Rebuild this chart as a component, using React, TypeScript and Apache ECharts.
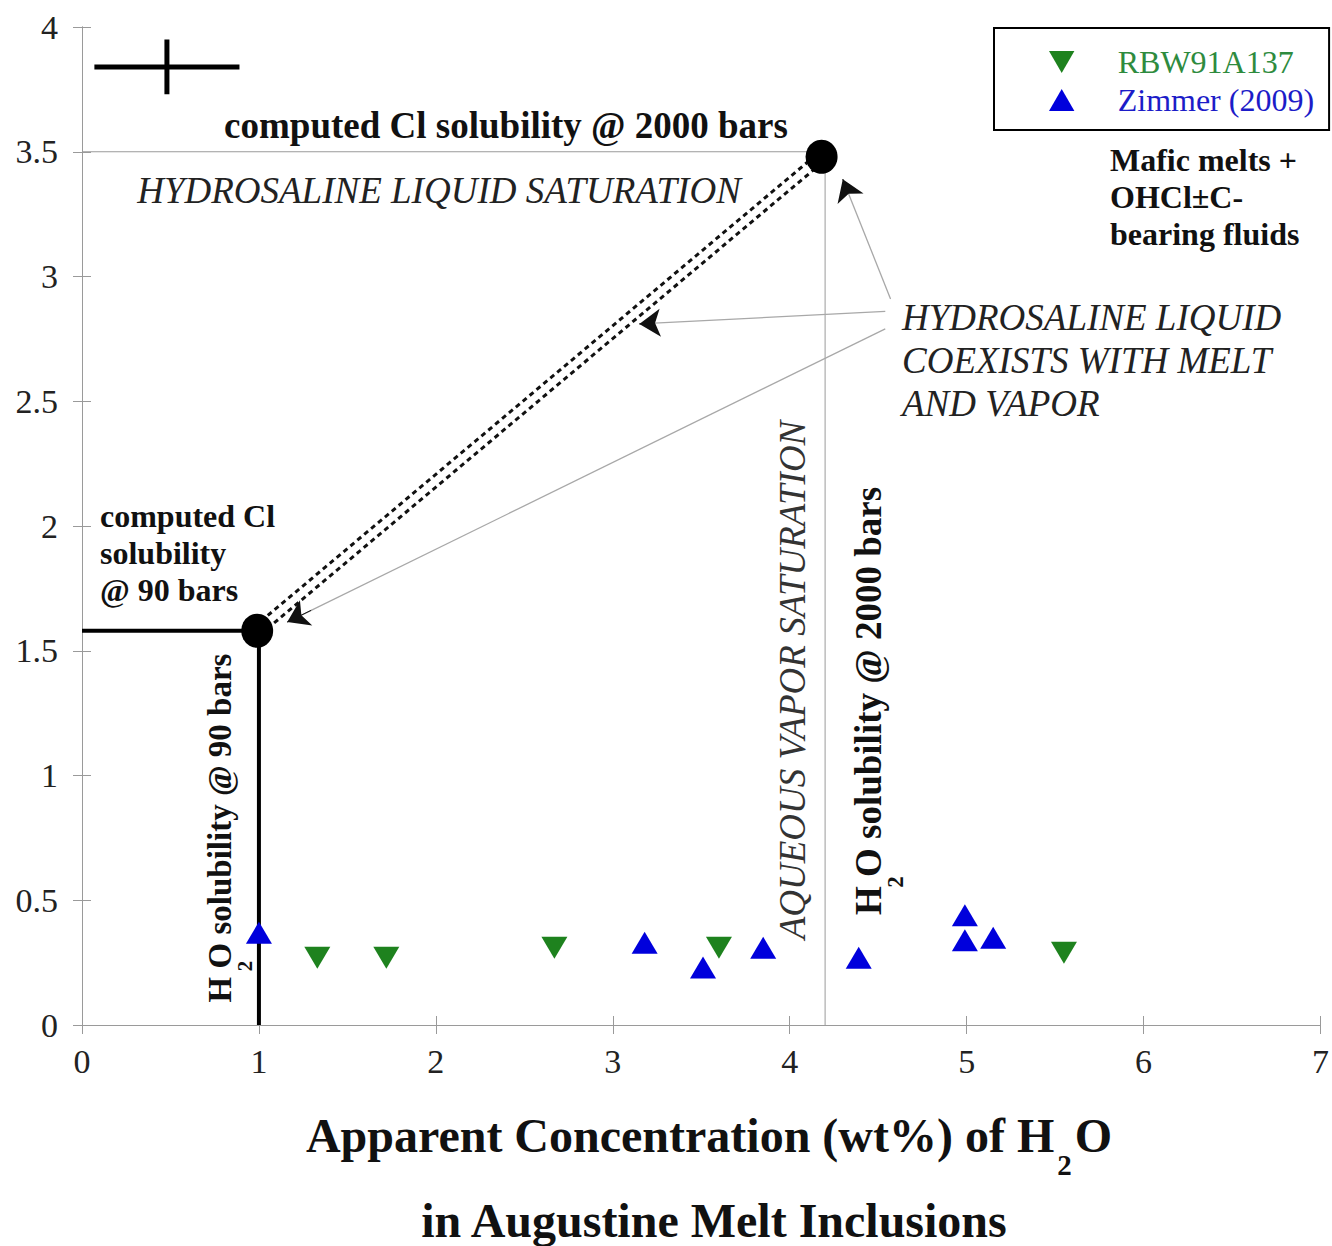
import React, { useEffect, useRef } from "react";
import * as echarts from "echarts";

const SERIF = '"Liberation Serif", "Times New Roman", serif';

const yTickLabels = ["0", "0.5", "1", "1.5", "2", "2.5", "3", "3.5", "4"];

// RBW91A137 (green, down triangles)
const rbwX = [1.33, 1.72, 2.67, 3.6, 5.55];
const rbwY = [0.27, 0.27, 0.31, 0.31, 0.29];

// Zimmer (2009) (blue, up triangles)
const zimX = [1.0, 3.18, 3.51, 3.85, 4.39, 4.99, 4.99, 5.15];
const zimY = [0.37, 0.33, 0.23, 0.31, 0.27, 0.44, 0.34, 0.35];

// computed solubility points
const cl90Point = [0.99, 1.58];
const cl2000Point = [4.18, 3.48];
const h2o90 = 1.0;
const cl90Level = 1.58;
const h2o2000 = 4.2;
const cl2000Level = 3.5;

// error bar (uncertainty cross)
const errCenter = [0.48, 3.84];
const errHalfX = 0.41;
const errHalfY = 0.11;

// arrows: from -> to
const arrowFrom = [
  [4.54, 2.86],
  [4.54, 2.79],
  [4.57, 2.91],
];
const arrowTo = [
  [3.15, 2.81],
  [1.16, 1.615],
  [4.3, 3.39],
];

function seg(a: number[], b: number[]) {
  return [a, b];
}

export default function App() {
  const ref = useRef<HTMLDivElement>(null);
  useEffect(() => {
    document.body.style.margin = "0";
    const chart = echarts.init(ref.current!, undefined, { renderer: "svg" });

    const lineSeries = (name: string, data: number[][], color: string, width: number, type: any = "solid", z = 2) => ({
      name,
      type: "line",
      data,
      symbol: "none",
      silent: true,
      z,
      lineStyle: { color, width, type },
    });

    const off = [0.018, -0.015];
    const dblA = [
      [cl90Point[0] + off[0], cl90Point[1] + off[1]],
      [cl2000Point[0] + off[0], cl2000Point[1] + off[1]],
    ];
    const dblB = [
      [cl90Point[0] - off[0], cl90Point[1] - off[1]],
      [cl2000Point[0] - off[0], cl2000Point[1] - off[1]],
    ];

    const arrowLines = arrowFrom.map((f, i) => ({ coords: [f, arrowTo[i]] }));
    const arrowHeads = arrowFrom.map((f, i) => {
      const t = arrowTo[i];
      const k = 0.04;
      return { coords: [[t[0] + (f[0] - t[0]) * k, t[1] + (f[1] - t[1]) * k], t] };
    });

    const axisCommon = {
      axisLine: { show: true, lineStyle: { color: "#9a9a9a", width: 1 } },
      axisTick: { show: true, inside: true, length: 9, lineStyle: { color: "#9a9a9a" } },
      splitLine: { show: false },
    };

    const txt = (extra: any) => ({
      fill: "#111",
      fontFamily: SERIF,
      textAlign: "center",
      align: "center",
      textVerticalAlign: "middle",
      verticalAlign: "middle",
      ...extra,
    });
    const txtTop = (extra: any) => ({
      fill: "#111",
      fontFamily: SERIF,
      textAlign: "left",
      align: "left",
      textVerticalAlign: "top",
      verticalAlign: "top",
      ...extra,
    });

    chart.setOption({
      animation: false,
      backgroundColor: "#ffffff",
      grid: { left: 82, right: 7, top: 27, bottom: 221, containLabel: false },
      xAxis: [
        {
          type: "value",
          min: 0,
          max: 7,
          interval: 1,
          position: "bottom",
          ...axisCommon,
          axisLabel: { fontSize: 34, margin: 19, color: "#222", fontFamily: SERIF },
        },
        {
          type: "value",
          min: 0,
          max: 7,
          interval: 1,
          position: "top",
          ...axisCommon,
          axisLabel: { show: false },
        },
      ],
      yAxis: [
        {
          type: "value",
          min: 0,
          max: 4,
          interval: 0.5,
          position: "left",
          ...axisCommon,
          axisLabel: {
            fontSize: 34,
            margin: 24,
            color: "#222",
            fontFamily: SERIF,
            formatter: (v: number) => yTickLabels[Math.round(v / 0.5)],
          },
        },
        {
          type: "value",
          min: 0,
          max: 4,
          interval: 0.5,
          position: "right",
          ...axisCommon,
          axisLabel: { show: false },
        },
      ],
      legend: {
        orient: "vertical",
        left: 994,
        top: 28,
        padding: [18, 15, 14, 55],
        itemWidth: 102,
        itemHeight: 22,
        itemGap: 6,
        borderColor: "#000",
        borderWidth: 2,
        selectedMode: false,
        symbolKeepAspect: true,
        textStyle: { fontSize: 32, fontFamily: SERIF },
        data: [
          { name: "RBW91A137", icon: "path://M0,0L10,0L5,8.66Z", textStyle: { color: "#2e8b3e" } },
          { name: "Zimmer (2009)", icon: "path://M5,0L10,8.66L0,8.66Z", textStyle: { color: "#1c1cc8" } },
        ],
      },
      series: [
        lineSeries("cl2000h", seg([0, cl2000Level], [h2o2000, cl2000Level]), "#9a9a9a", 1),
        lineSeries("h2o2000v", seg([h2o2000, cl2000Level], [h2o2000, 0]), "#9a9a9a", 1),
        lineSeries("cl90h", seg([0, cl90Level], [cl90Point[0], cl90Level]), "#000", 4),
        lineSeries("h2o90v", seg([h2o90, cl90Level], [h2o90, 0]), "#000", 4),
        lineSeries("dblA", dblA, "#111", 3, [5, 4]),
        lineSeries("dblB", dblB, "#111", 3, [5, 4]),
        lineSeries("errH", seg([errCenter[0] - errHalfX, errCenter[1]], [errCenter[0] + errHalfX, errCenter[1]]), "#000", 5),
        lineSeries("errV", seg([errCenter[0], errCenter[1] - errHalfY], [errCenter[0], errCenter[1] + errHalfY]), "#000", 5),
        {
          name: "arrowLines",
          type: "lines",
          coordinateSystem: "cartesian2d",
          silent: true,
          symbol: ["none", "none"],
          lineStyle: { color: "#a8a8a8", width: 1.3, opacity: 1, curveness: 0 },
          data: arrowLines,
          z: 3,
        },
        {
          name: "arrowHeads",
          type: "lines",
          coordinateSystem: "cartesian2d",
          silent: true,
          symbol: ["none", "arrow"],
          symbolSize: 21,
          lineStyle: { color: "#111", width: 1, opacity: 1, curveness: 0 },
          data: arrowHeads,
          z: 4,
        },
        {
          name: "dots",
          type: "scatter",
          symbol: "circle",
          symbolSize: [32, 34],
          itemStyle: { color: "#000", opacity: 1 },
          data: [cl90Point, cl2000Point],
          silent: true,
          z: 5,
        },
        {
          name: "RBW91A137",
          type: "scatter",
          symbol: "triangle",
          symbolRotate: 180,
          symbolSize: [26, 22],
          itemStyle: { color: "#1e821e", opacity: 1 },
          data: rbwX.map((x, i) => [x, rbwY[i]]),
          z: 6,
        },
        {
          name: "Zimmer (2009)",
          type: "scatter",
          symbol: "triangle",
          symbolSize: [26, 22],
          itemStyle: { color: "#0000dc", opacity: 1 },
          data: zimX.map((x, i) => [x, zimY[i]]),
          z: 6,
        },
      ],
      graphic: [
        { type: "text", x: 506, y: 125, style: txt({ text: "computed Cl solubility @ 2000 bars", fontWeight: "bold", fontSize: 37 }) },
        { type: "text", x: 439, y: 190, style: txt({ text: "HYDROSALINE LIQUID SATURATION", fontStyle: "italic", fontSize: 37, fill: "#222" }) },
        { type: "text", x: 100, y: 497, style: txtTop({ text: "computed Cl\nsolubility\n@ 90 bars", fontWeight: "bold", fontSize: 32, lineHeight: 37 }) },
        { type: "text", x: 1110, y: 141, style: txtTop({ text: "Mafic melts +\nOHCl\u00b1C-\nbearing fluids", fontWeight: "bold", fontSize: 32, lineHeight: 37 }) },
        { type: "text", x: 902, y: 296, style: txtTop({ text: "HYDROSALINE LIQUID\nCOEXISTS WITH MELT\nAND VAPOR", fontStyle: "italic", fontSize: 37, lineHeight: 43, fill: "#222" }) },
        { type: "text", x: 792, y: 680, rotation: Math.PI / 2, style: txt({ text: "AQUEOUS VAPOR SATURATION", fontStyle: "italic", fontSize: 37, fill: "#333" }) },
        { type: "text", x: 868, y: 701, rotation: Math.PI / 2, style: txt({ text: "H O solubility @ 2000 bars", fontWeight: "bold", fontSize: 37 }) },
        { type: "text", x: 895, y: 882, rotation: Math.PI / 2, style: txt({ text: "2", fontWeight: "bold", fontSize: 23 }) },
        { type: "text", x: 220, y: 828, rotation: Math.PI / 2, style: txt({ text: "H O solubility @ 90 bars", fontWeight: "bold", fontSize: 33 }) },
        { type: "text", x: 245, y: 966, rotation: Math.PI / 2, style: txt({ text: "2", fontWeight: "bold", fontSize: 21 }) },
        {
          type: "text",
          x: 709,
          y: 1135,
          style: txt({
            text: "Apparent Concentration (wt%) of H{s|2}O",
            fontWeight: "bold",
            fontSize: 48,
            rich: {
              s: { fontSize: 29, fontWeight: "bold", fontFamily: SERIF, fill: "#111", padding: [60, 3, 0, 3] },
            },
          }),
        },
        { type: "text", x: 714, y: 1220, style: txt({ text: "in Augustine Melt Inclusions", fontWeight: "bold", fontSize: 48 }) },
      ],
    });
    return () => chart.dispose();
  }, []);
  return <div ref={ref} style={{ width: 1332, height: 1246 }} />;
}
